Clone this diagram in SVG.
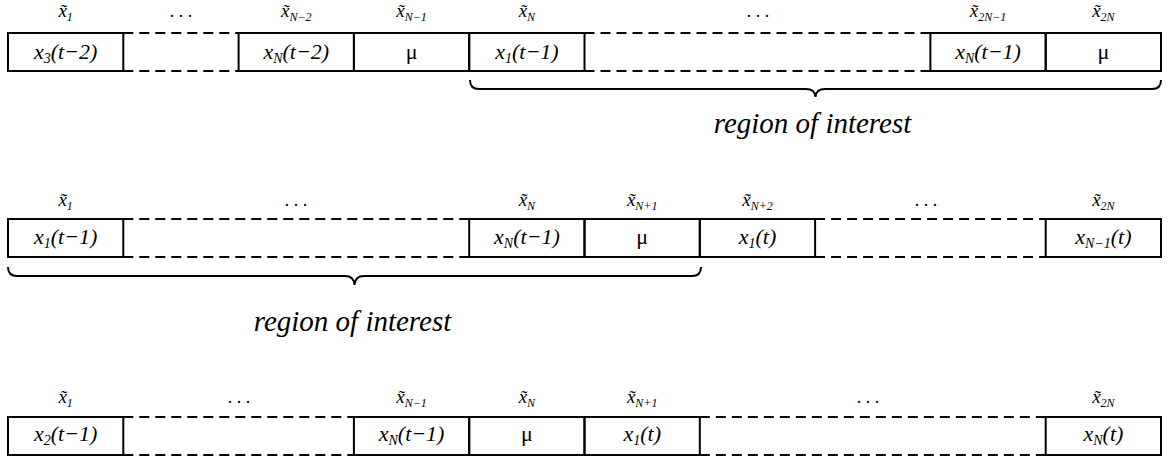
<svg xmlns="http://www.w3.org/2000/svg" width="1172" height="459" viewBox="0 0 1172 459" font-family="Liberation Serif, Times New Roman, serif">
<style>
.box{fill:none;stroke:#000;stroke-width:2}
.dash{fill:none;stroke:#000;stroke-width:2;stroke-dasharray:10 6}
.brace{fill:none;stroke:#000;stroke-width:2}
.t{font-style:italic;font-size:22px;text-anchor:middle}
.mu{font-style:normal;font-size:22px;text-anchor:middle}
.lb{font-style:italic;font-size:19px;text-anchor:middle}
.dots{font-size:18px;text-anchor:middle}
.roi{font-style:italic;font-size:29px;text-anchor:middle}
.s{font-size:14px}
.ls{font-size:12px}
</style>
<rect width="1172" height="459" fill="#fff"/>

<!-- Row 1 -->
<g id="row1">
  <g id="r1-labels">
    <text class="lb" x="65.6" y="17">x&#x303;<tspan class="ls" dy="4">1</tspan></text>
    <text class="dots" x="181" y="17">. . .</text>
    <text class="lb" x="296.3" y="17">x&#x303;<tspan class="ls" dy="4">N−2</tspan></text>
    <text class="lb" x="411.6" y="17">x&#x303;<tspan class="ls" dy="4">N−1</tspan></text>
    <text class="lb" x="526.9" y="17">x&#x303;<tspan class="ls" dy="4">N</tspan></text>
    <text class="dots" x="758" y="17">. . .</text>
    <text class="lb" x="988" y="17">x&#x303;<tspan class="ls" dy="4">2N−1</tspan></text>
    <text class="lb" x="1103.4" y="17">x&#x303;<tspan class="ls" dy="4">2N</tspan></text>
  </g>
  <g id="r1-c0"><rect class="box" x="8" y="33" width="115.3" height="38"/><text class="t" x="65.6" y="59">x<tspan class="s" dy="4">3</tspan><tspan dy="-4">(t−2)</tspan></text></g>
  <g id="r1-gap1"><line class="dash" x1="123.3" y1="33" x2="238.6" y2="33"/><line class="dash" x1="123.3" y1="71" x2="238.6" y2="71"/></g>
  <g id="r1-c2"><rect class="box" x="238.6" y="33" width="115.3" height="38"/><text class="t" x="296.3" y="59">x<tspan class="s" dy="4">N</tspan><tspan dy="-4">(t−2)</tspan></text></g>
  <g id="r1-c3"><rect class="box" x="353.9" y="33" width="115.3" height="38"/><text class="mu" x="411.6" y="59">μ</text></g>
  <g id="r1-c4"><rect class="box" x="469.2" y="33" width="115.3" height="38"/><text class="t" x="526.9" y="59">x<tspan class="s" dy="4">1</tspan><tspan dy="-4">(t−1)</tspan></text></g>
  <g id="r1-gap2"><line class="dash" x1="584.5" y1="33" x2="930.4" y2="33"/><line class="dash" x1="584.5" y1="71" x2="930.4" y2="71"/></g>
  <g id="r1-c8"><rect class="box" x="930.4" y="33" width="115.3" height="38"/><text class="t" x="988" y="59">x<tspan class="s" dy="4">N</tspan><tspan dy="-4">(t−1)</tspan></text></g>
  <g id="r1-c9"><rect class="box" x="1045.7" y="33" width="115.3" height="38"/><text class="mu" x="1103.4" y="59">μ</text></g>
</g>

<!-- Row 2 -->
<g id="row2">
  <g id="r2-labels">
    <text class="lb" x="65.6" y="206">x&#x303;<tspan class="ls" dy="4">1</tspan></text>
    <text class="dots" x="296" y="206">. . .</text>
    <text class="lb" x="526.9" y="206">x&#x303;<tspan class="ls" dy="4">N</tspan></text>
    <text class="lb" x="642.2" y="206">x&#x303;<tspan class="ls" dy="4">N+1</tspan></text>
    <text class="lb" x="757.5" y="206">x&#x303;<tspan class="ls" dy="4">N+2</tspan></text>
    <text class="dots" x="926" y="206">. . .</text>
    <text class="lb" x="1103.4" y="206">x&#x303;<tspan class="ls" dy="4">2N</tspan></text>
  </g>
  <g id="r2-c0"><rect class="box" x="8" y="219" width="115.3" height="38"/><text class="t" x="65.6" y="244">x<tspan class="s" dy="4">1</tspan><tspan dy="-4">(t−1)</tspan></text></g>
  <g id="r2-gap1"><line class="dash" x1="123.3" y1="219" x2="469.2" y2="219"/><line class="dash" x1="123.3" y1="257" x2="469.2" y2="257"/></g>
  <g id="r2-c4"><rect class="box" x="469.2" y="219" width="115.3" height="38"/><text class="t" x="526.9" y="244">x<tspan class="s" dy="4">N</tspan><tspan dy="-4">(t−1)</tspan></text></g>
  <g id="r2-c5"><rect class="box" x="584.5" y="219" width="115.3" height="38"/><text class="mu" x="642.2" y="244">μ</text></g>
  <g id="r2-c6"><rect class="box" x="699.8" y="219" width="115.3" height="38"/><text class="t" x="757.5" y="244">x<tspan class="s" dy="4">1</tspan><tspan dy="-4">(t)</tspan></text></g>
  <g id="r2-gap2"><line class="dash" x1="815.1" y1="219" x2="1045.7" y2="219"/><line class="dash" x1="815.1" y1="257" x2="1045.7" y2="257"/></g>
  <g id="r2-c9"><rect class="box" x="1045.7" y="219" width="115.3" height="38"/><text class="t" x="1103.4" y="244">x<tspan class="s" dy="4">N−1</tspan><tspan dy="-4">(t)</tspan></text></g>
</g>

<!-- Row 3 -->
<g id="row3">
  <g id="r3-labels">
    <text class="lb" x="65.6" y="403">x&#x303;<tspan class="ls" dy="4">1</tspan></text>
    <text class="dots" x="239" y="403">. . .</text>
    <text class="lb" x="411.6" y="403">x&#x303;<tspan class="ls" dy="4">N−1</tspan></text>
    <text class="lb" x="526.9" y="403">x&#x303;<tspan class="ls" dy="4">N</tspan></text>
    <text class="lb" x="642.2" y="403">x&#x303;<tspan class="ls" dy="4">N+1</tspan></text>
    <text class="dots" x="868" y="403">. . .</text>
    <text class="lb" x="1103.4" y="403">x&#x303;<tspan class="ls" dy="4">2N</tspan></text>
  </g>
  <g id="r3-c0"><rect class="box" x="8" y="417" width="115.3" height="38"/><text class="t" x="65.6" y="441">x<tspan class="s" dy="4">2</tspan><tspan dy="-4">(t−1)</tspan></text></g>
  <g id="r3-gap1"><line class="dash" x1="123.3" y1="417" x2="353.9" y2="417"/><line class="dash" x1="123.3" y1="455" x2="353.9" y2="455"/></g>
  <g id="r3-c3"><rect class="box" x="353.9" y="417" width="115.3" height="38"/><text class="t" x="411.6" y="441">x<tspan class="s" dy="4">N</tspan><tspan dy="-4">(t−1)</tspan></text></g>
  <g id="r3-c4"><rect class="box" x="469.2" y="417" width="115.3" height="38"/><text class="mu" x="526.9" y="441">μ</text></g>
  <g id="r3-c5"><rect class="box" x="584.5" y="417" width="115.3" height="38"/><text class="t" x="642.2" y="441">x<tspan class="s" dy="4">1</tspan><tspan dy="-4">(t)</tspan></text></g>
  <g id="r3-gap2"><line class="dash" x1="699.8" y1="417" x2="1045.7" y2="417"/><line class="dash" x1="699.8" y1="455" x2="1045.7" y2="455"/></g>
  <g id="r3-c9"><rect class="box" x="1045.7" y="417" width="115.3" height="38"/><text class="t" x="1103.4" y="441">x<tspan class="s" dy="4">N</tspan><tspan dy="-4">(t)</tspan></text></g>
</g>

<!-- Braces -->
<g id="connectors">
  <path class="brace" d="M470,80 Q470,89 479,89 L806,89 Q815,89 815.5,97 Q816,89 825,89 L1152,89 Q1161,89 1161,80"/>
  <path class="brace" d="M8,267 Q8,276 17,276 L345,276 Q354,276 354.5,285 Q355,276 364,276 L692,276 Q701,276 701,267"/>
</g>
<g id="roi1"><text class="roi" x="812.5" y="133">region of interest</text></g>
<g id="roi2"><text class="roi" x="352.5" y="331">region of interest</text></g>
</svg>
